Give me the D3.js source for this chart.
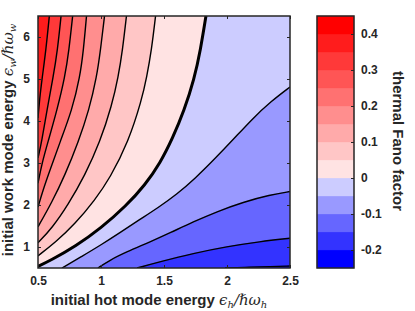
<!DOCTYPE html>
<html>
<head>
<meta charset="utf-8">
<script src="https://cdn.jsdelivr.net/npm/d3@7"></script>
<style>
    body { margin: 0; background: #fff; }
    svg text { font-family: "Liberation Sans", Arial, sans-serif; font-weight: bold; fill: #262626; }
    .math { font-family: "DejaVu Serif", serif; font-style: italic; font-weight: normal; }
</style>
</head>
<body>
<div class="chart"></div>
<script>
// axis ticks
const xTicks = [0.5, 1, 1.5, 2, 2.5]
const yTicks = [1, 2, 3, 4, 5, 6]
const cbTicks = [-0.2, -0.1, 0, 0.1, 0.2, 0.3, 0.4]
const cbRange = [-0.25, 0.45]

// contour lines, [eps_h, eps_w], from left/bottom edge to top/right edge
const levels = [0.35, 0.3, 0.25, 0.2, 0.15, 0.1, 0.05, 0, -0.05, -0.1, -0.15, -0.2]
const c035 = [[0.5, 4.07], [0.512, 4.5], [0.534, 5.05], [0.563, 5.69], [0.59, 6.5]]
const c030 = [[0.5, 3.12], [0.529, 3.5], [0.571, 4.26], [0.621, 5.05], [0.655, 5.69], [0.683, 6.5]]
const c025 = [[0.5, 2.52], [0.532, 3.0], [0.579, 3.5], [0.651, 4.26], [0.714, 5.05], [0.746, 5.69], [0.775, 6.5]]
const c020 = [[0.5, 1.95], [0.54, 2.36], [0.595, 2.83], [0.675, 3.5], [0.77, 4.26], [0.833, 5.05], [0.861, 5.69], [0.885, 6.5]]
const c015 = [[0.5, 1.48], [0.611, 2.07], [0.714, 2.71], [0.82, 3.5], [0.905, 4.26], [0.966, 5.05], [0.996, 5.69], [1.028, 6.5]]
const c010 = [[0.5, 1.1], [0.611, 1.45], [0.738, 2.0], [0.873, 2.71], [0.992, 3.5], [1.087, 4.38], [1.137, 5.05], [1.171, 5.69], [1.202, 6.5]]
const c005 = [[0.5, 0.79], [0.635, 1.1], [0.794, 1.55], [0.952, 2.12], [1.071, 2.64], [1.217, 3.5], [1.323, 4.5], [1.363, 5.05], [1.401, 5.69], [1.433, 6.5]]
const c000 = [[0.5, 0.54], [0.6, 0.68], [0.8, 1.02], [1.0, 1.45], [1.2, 1.98], [1.35, 2.48], [1.47, 3.0], [1.57, 3.6], [1.66, 4.25], [1.74, 5.0], [1.79, 5.7], [1.833, 6.5]]
const cm005 = [[0.69, 0.5], [0.85, 0.78], [1.0, 1.05], [1.15, 1.34], [1.3, 1.64], [1.45, 1.93], [1.6, 2.25], [1.75, 2.64], [1.9, 3.09], [2.05, 3.56], [2.2, 4.05], [2.35, 4.47], [2.5, 4.81]]
const cm010 = [[0.976, 0.5], [1.071, 0.69], [1.2, 0.88], [1.389, 1.12], [1.55, 1.34], [1.733, 1.6], [1.918, 1.84], [2.129, 2.07], [2.341, 2.24], [2.5, 2.32]]
const cm015 = [[1.286, 0.5], [1.468, 0.65], [1.733, 0.85], [1.998, 1.01], [2.262, 1.13], [2.5, 1.21]]
const cm020 = [[1.984, 0.5], [2.183, 0.52], [2.341, 0.533], [2.5, 0.548]]
const lines = [c035, c030, c025, c020, c015, c010, c005, c000, cm005, cm010, cm015, cm020]

const W = 415, H = 311
const plot = { left: 38, right: 290, top: 16, bottom: 268 }
const cb = { left: 317, right: 354, top: 16, bottom: 268 }
const axisColor = "#262626"

const x = d3.scaleLinear().domain([0.5, 2.5]).range([plot.left, plot.right])
const y = d3.scaleLinear().domain([0.5, 6.5]).range([plot.bottom, plot.top])
const yc = d3.scaleLinear().domain(cbRange).range([cb.bottom, cb.top])

// band colour from its lower edge: reds above 0, blues below
function bandColor(lo) {
    const k = Math.round(lo / 0.05)
    if (k >= 0) {
        const g = Math.round(255 * (8 - k) / 9)
        return `rgb(255,${g},${g})`
    }
    const v = Math.round(255 * (5 + k) / 5)
    return `rgb(${v},${v},255)`
}

const svg = d3.select(".chart")
    .append("svg")
    .attr("width", W)
    .attr("height", H)

svg.append("clipPath").attr("id", "clip")
    .append("rect")
    .attr("x", plot.left).attr("y", plot.top)
    .attr("width", plot.right - plot.left).attr("height", plot.bottom - plot.top)

const g = svg.append("g").attr("clip-path", "url(#clip)")

const curve = d3.line()
    .x(d => x(d[0]))
    .y(d => y(d[1]))
    .curve(d3.curveBasis)

// background = highest band in the top left corner
g.append("rect")
    .attr("x", plot.left).attr("y", plot.top)
    .attr("width", plot.right - plot.left).attr("height", plot.bottom - plot.top)
    .attr("fill", bandColor(0.35))

// fill the region below each level, highest first
lines.forEach((pts, i) => {
    const start = pts[0], end = pts[pts.length - 1]
    const corners = []
    if (end[1] >= 6.5 - 1e-6) corners.push([2.5, 6.5])
    corners.push([2.5, 0.5])
    if (start[0] <= 0.5 + 1e-6) corners.push([0.5, 0.5])
    const d = curve(pts) + corners.map(c => `L${x(c[0])},${y(c[1])}`).join("") + "Z"
    g.append("path")
        .attr("d", d)
        .attr("fill", bandColor(levels[i] - 0.05))
        .attr("stroke", bandColor(levels[i] - 0.05))
        .attr("stroke-width", 0.5)
})

// contour lines
lines.forEach((pts, i) => {
    g.append("path")
        .attr("d", curve(pts))
        .attr("fill", "none")
        .attr("stroke", "#000")
        .attr("stroke-width", levels[i] === 0 ? 3 : 1.4)
})

// axes, ticks inward on all four sides
const fmt = d => String(d)
svg.append("g")
    .attr("transform", `translate(0, ${plot.bottom})`)
    .call(d3.axisBottom(x).tickValues(xTicks).tickSize(-3).tickPadding(8).tickFormat(fmt))
    .call(a => a.select(".domain").remove())
svg.append("g")
    .attr("transform", `translate(0, ${plot.top})`)
    .call(d3.axisTop(x).tickValues(xTicks).tickSize(-3).tickFormat(""))
    .call(a => a.select(".domain").remove())
svg.append("g")
    .attr("transform", `translate(${plot.left}, 0)`)
    .call(d3.axisLeft(y).tickValues(yTicks).tickSize(-3).tickPadding(8).tickFormat(fmt))
    .call(a => a.select(".domain").remove())
svg.append("g")
    .attr("transform", `translate(${plot.right}, 0)`)
    .call(d3.axisRight(y).tickValues(yTicks).tickSize(-3).tickFormat(""))
    .call(a => a.select(".domain").remove())

svg.selectAll(".tick line").attr("stroke", axisColor).attr("stroke-width", 1)
svg.selectAll(".tick text")
    .style("font-size", "12px")
    .style("font-family", "'Liberation Sans', Arial, sans-serif")
    .style("font-weight", "bold")
    .attr("fill", axisColor)

svg.append("rect")
    .attr("x", plot.left).attr("y", plot.top)
    .attr("width", plot.right - plot.left).attr("height", plot.bottom - plot.top)
    .attr("fill", "none")
    .attr("stroke", axisColor)
    .attr("stroke-width", 1.5)

// axis labels
const xl = svg.append("text")
    .attr("x", 159).attr("y", 305)
    .attr("text-anchor", "middle")
    .style("font-size", "15px")
xl.append("tspan").text("initial hot mode energy ")
xl.append("tspan").attr("class", "math").text("ϵ")
xl.append("tspan").attr("class", "math").attr("dy", 3).style("font-size", "10px").text("h")
xl.append("tspan").attr("class", "math").attr("dy", -3).text("/ℏω")
xl.append("tspan").attr("class", "math").attr("dy", 3).style("font-size", "10px").text("h")

const yl = svg.append("text")
    .attr("transform", `translate(13, 140) rotate(-90)`)
    .attr("text-anchor", "middle")
    .style("font-size", "15px")
yl.append("tspan").text("initial work mode energy ")
yl.append("tspan").attr("class", "math").text("ϵ")
yl.append("tspan").attr("class", "math").attr("dy", 3).style("font-size", "10px").text("w")
yl.append("tspan").attr("class", "math").attr("dy", -3).text("/ℏω")
yl.append("tspan").attr("class", "math").attr("dy", 3).style("font-size", "10px").text("w")

// colorbar
const bands = d3.range(14).map(i => cbRange[0] + i * 0.05)
svg.append("g")
    .selectAll("rect")
    .data(bands)
    .join("rect")
    .attr("x", cb.left)
    .attr("y", d => yc(d + 0.05))
    .attr("width", cb.right - cb.left)
    .attr("height", d => yc(d) - yc(d + 0.05))
    .attr("fill", d => bandColor(d))
    .attr("stroke", d => bandColor(d))
    .attr("stroke-width", 0.3)

svg.append("g")
    .attr("transform", `translate(${cb.right}, 0)`)
    .call(d3.axisRight(yc).tickValues(cbTicks).tickSize(-3).tickPadding(7).tickFormat(fmt))
    .call(a => a.select(".domain").remove())
    .call(a => a.selectAll("line").attr("stroke", axisColor))
    .selectAll("text")
    .style("font-size", "12px")
    .style("font-family", "'Liberation Sans', Arial, sans-serif")
    .style("font-weight", "bold")
    .attr("fill", axisColor)

svg.append("rect")
    .attr("x", cb.left).attr("y", cb.top)
    .attr("width", cb.right - cb.left).attr("height", cb.bottom - cb.top)
    .attr("fill", "none")
    .attr("stroke", axisColor)
    .attr("stroke-width", 1.5)

svg.append("text")
    .attr("transform", `translate(393, 141) rotate(90)`)
    .attr("text-anchor", "middle")
    .style("font-size", "15px")
    .text("thermal Fano factor")
</script>
</body>
</html>
